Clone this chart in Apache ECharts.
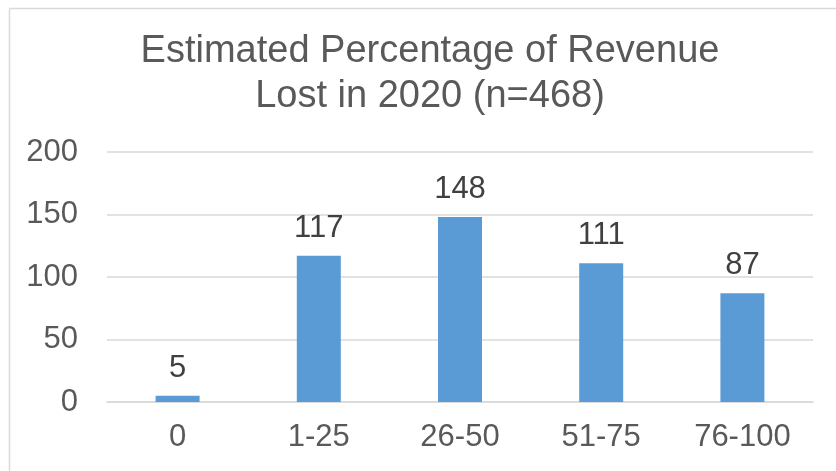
<!DOCTYPE html>
<html>
<head>
<meta charset="utf-8">
<script src="https://cdn.jsdelivr.net/npm/echarts@6/dist/echarts.min.js"></script>
<style>
  html, body { margin: 0; padding: 0; background: #fff; }
  #chart { width: 836px; height: 471px; }
</style>
</head>
<body>
<div id="chart"></div>
<script>
const categories = ['0', '1-25', '26-50', '51-75', '76-100'];
const counts = [5, 117, 148, 111, 87];
const yTicks = [0, 50, 100, 150, 200];

const chart = echarts.init(document.getElementById('chart'));
const font = 'Liberation Sans, Arial, sans-serif';

chart.setOption({
  backgroundColor: '#fff',
  animation: false,
  title: {
    text: 'Estimated Percentage of Revenue\nLost in 2020 (n=468)',
    left: 425,
    top: 24,
    textAlign: 'center',
    textStyle: {
      fontFamily: font,
      fontSize: 38,
      fontWeight: 'normal',
      color: '#595959',
      lineHeight: 45
    }
  },
  graphic: [
    { type: 'line', shape: { x1: 9.5, y1: 8.5, x2: 836, y2: 8.5 }, style: { stroke: '#d9d9d9', lineWidth: 1.5 } },
    { type: 'line', shape: { x1: 9.5, y1: 8.5, x2: 9.5, y2: 471 }, style: { stroke: '#d9d9d9', lineWidth: 1.5 } }
  ],
  grid: { left: 107, right: 23, top: 152, bottom: 69 },
  xAxis: {
    type: 'category',
    data: categories,
    axisLine: { lineStyle: { color: '#d9d9d9', width: 1.5 } },
    axisTick: { show: false },
    axisLabel: { fontFamily: font, fontSize: 31, color: '#595959', margin: 20 }
  },
  yAxis: {
    type: 'value',
    min: yTicks[0],
    max: yTicks[yTicks.length - 1],
    interval: 50,
    axisLine: { show: false },
    axisTick: { show: false },
    splitLine: { lineStyle: { color: '#d9d9d9', width: 1.5 } },
    axisLabel: { fontFamily: font, fontSize: 31, color: '#595959', margin: 29 }
  },
  series: [{
    type: 'bar',
    data: counts,
    barWidth: 44,
    itemStyle: { color: '#5b9bd5' },
    label: {
      show: true,
      position: 'top',
      distance: 12,
      fontFamily: font,
      fontSize: 31,
      color: '#404040'
    }
  }]
});
</script>
</body>
</html>
